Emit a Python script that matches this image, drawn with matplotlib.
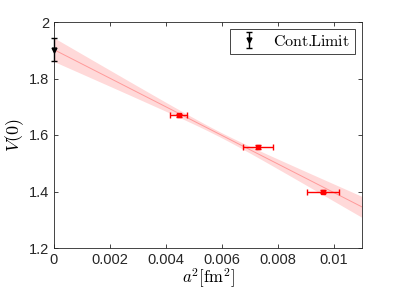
import numpy as np
import matplotlib
matplotlib.use('Agg')
import matplotlib.pyplot as plt
from matplotlib.ticker import FuncFormatter

# lattice data
a2 = [0.00445, 0.00728, 0.0096]
a2_err = [0.00029, 0.00054, 0.00057]
v0 = [1.670, 1.557, 1.400]
v0_err = [0.006, 0.007, 0.006]

# continuum limit
cont_x = [0.0]
cont_v = [1.902]
cont_err = [0.041]

# linear fit V(0) = c + m a^2, band sigma^2 = s0^2 + sm^2 (a^2 - x0)^2
fit_c = 1.902
fit_m = -50.6
fit_s0 = 0.009
fit_sm = 7.0
fit_x0 = 0.00586

plt.rcParams['font.family'] = ['Liberation Sans', 'DejaVu Sans']
plt.rcParams['mathtext.fontset'] = 'cm'

fig = plt.figure(figsize=(3.99, 2.99), dpi=100)
ax = fig.add_axes([54/399, 1 - 248/299, 308/399, 226/299])

x = np.linspace(0, 0.011, 200)
y = fit_c + fit_m * x
sig = np.sqrt(fit_s0**2 + fit_sm**2 * (x - fit_x0)**2)
ax.fill_between(x, y - sig, y + sig, color='#ffd9d9', lw=0, zorder=1)
ax.plot(x, y, color='#ff9a9a', lw=0.7, zorder=2)

ax.errorbar(a2, v0, xerr=a2_err, yerr=v0_err, fmt='s', color='red',
            ms=3.2, lw=1, capsize=2.5, capthick=1, zorder=3)
ax.errorbar(cont_x, cont_v, yerr=cont_err, fmt='v', color='black',
            ms=3.5, lw=1, capsize=2.5, capthick=1, zorder=4, clip_on=False,
            label=r'$\mathrm{Cont.\!\!Limit}$')

ax.set_xlim(0, 0.011)
ax.set_ylim(1.2, 2.0)
ax.set_xticks([0, 0.002, 0.004, 0.006, 0.008, 0.01])
ax.set_yticks([1.2, 1.4, 1.6, 1.8, 2.0])
ax.xaxis.set_major_formatter(FuncFormatter(lambda v, p: '%g' % round(v, 4)))
ax.yaxis.set_major_formatter(FuncFormatter(lambda v, p: '%g' % round(v, 2)))
ax.tick_params(direction='in', length=3, width=0.6, labelsize=10.5,
               colors='#262626', top=True, right=True)
for s in ax.spines.values():
    s.set_color('#262626')
    s.set_linewidth(0.6)

ax.set_xlabel(r'$a^2[\mathrm{fm}^2]$', fontsize=12, labelpad=0)
ax.set_ylabel(r'$V(0)$', fontsize=13, labelpad=2)

leg = ax.legend(loc='upper right', fontsize=11.5,
                fancybox=False, edgecolor='#262626', framealpha=1,
                handlelength=1.8, handletextpad=0.6, borderpad=0.3,
                borderaxespad=0.45)
leg.get_frame().set_linewidth(0.6)

fig.savefig('out.png', dpi=100)
